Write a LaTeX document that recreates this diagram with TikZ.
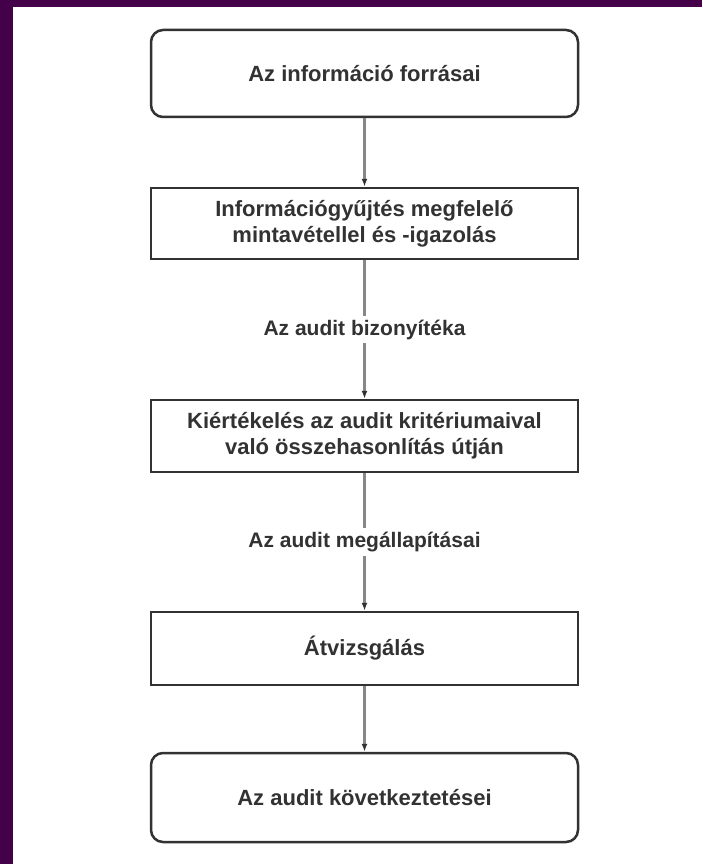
\documentclass[tikz,border=0pt]{standalone}
\usepackage{fontspec}
\setmainfont{Liberation Sans}
\usetikzlibrary{arrows.meta}
\definecolor{framepurple}{RGB}{68,0,72}
\definecolor{boxline}{RGB}{50,50,50}
\definecolor{linkgray}{RGB}{135,135,135}
\definecolor{txtgray}{RGB}{50,50,50}

\begin{document}
\begin{tikzpicture}[x=1pt,y=-1pt,
    stepbox/.style={draw=boxline,line width=2.5pt,fill=white,minimum width=427pt,
      align=center,inner sep=0pt,text=txtgray,font=\fontsize{22}{26}\selectfont\bfseries},
    endbox/.style={stepbox,rounded corners=12pt},
    link/.style={draw=linkgray,line width=2.5pt,-{Latex[length=8pt,width=6pt,color=boxline]}},
    lbl/.style={fill=white,inner sep=4pt,text=txtgray,font=\fontsize{21}{26}\selectfont\bfseries}]

      \useasboundingbox (0,0) rectangle (702,864);
      \fill[white] (0,0) rectangle (702,864);
      \fill[framepurple] (0,0) rectangle (702,7);
      \fill[framepurple] (0,0) rectangle (13,864);

      % the five steps
      \node[endbox,minimum height=87pt] (src) at (364.5,73.5) {Az információ forrásai};
      \node[stepbox,minimum height=71pt] (collect) at (364.5,223.5) {Információgyűjtés megfelelő\\mintavétellel és -igazolás};
      \node[stepbox,minimum height=72pt] (eval) at (364.5,436) {Kiértékelés az audit kritériumaival\\való összehasonlítás útján};
      \node[stepbox,minimum height=73pt] (review) at (364.5,648.5) {Átvizsgálás};
      \node[endbox,minimum height=89pt] (concl) at (364.5,797.5) {Az audit következtetései};

      % connectors
      \draw[link] (src) -- (collect);
      \draw[link] (collect) -- node[lbl] {Az audit bizonyítéka} (eval);
      \draw[link] (eval) -- node[lbl] {Az audit megállapításai} (review);
      \draw[link] (review) -- (concl);

\end{tikzpicture}
\end{document}
